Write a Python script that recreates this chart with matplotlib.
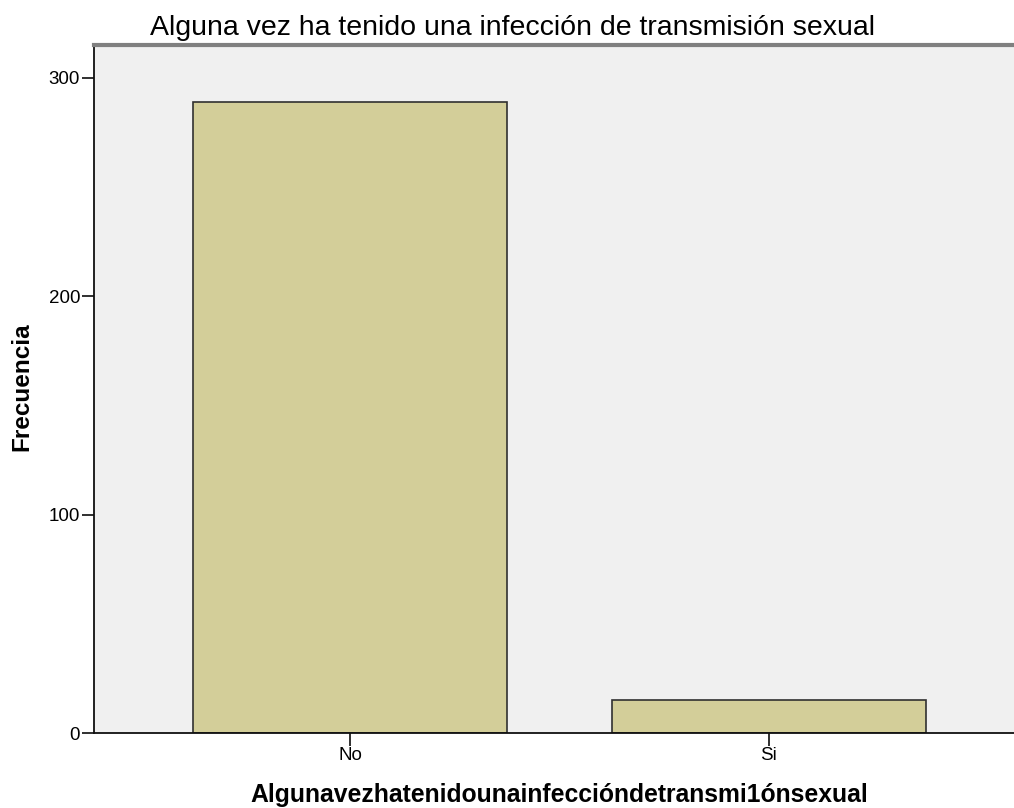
import matplotlib.pyplot as plt

categories = ["No", "Si"]
frecuencia = [289, 15]
yticks = [0, 100, 200, 300]

plt.rcParams['font.family'] = ['Liberation Sans', 'DejaVu Sans']

fig = plt.figure(figsize=(10.14, 8.08), dpi=100)
ax = fig.add_axes([94 / 1014, 75 / 808, 920 / 1014, 688 / 808])
ax.set_facecolor('#F0F0F0')

x = range(len(categories))
ax.bar(x, frecuencia, width=0.75, color='#D3CE99', edgecolor='#303030', linewidth=1.2, zorder=2)

ax.set_xlim(-0.611, 1.585)
ax.set_ylim(0, 315)
ax.set_xticks(list(x))
ax.set_xticklabels(categories)
ax.set_yticks(yticks)
ax.tick_params(axis='both', direction='out', length=9, width=1.3, labelsize=13.5, color='#202020', pad=1)

ax.spines['left'].set_color('#101010')
ax.spines['bottom'].set_color('#101010')
ax.spines['left'].set_linewidth(1.3)
ax.spines['bottom'].set_linewidth(1.3)
ax.spines['top'].set_color('#808080')
ax.spines['top'].set_linewidth(3)
ax.spines['right'].set_visible(False)

fig.text(513 / 1014, 1 - 28 / 808, 'Alguna vez ha tenido una infección de transmisión sexual',
         ha='center', va='center', fontsize=20.5)
fig.text(559 / 1014, 1 - 795 / 808, 'Algunavezhatenidounainfeccióndetransmi1ónsexual',
         ha='center', va='center', fontsize=17.8, fontweight='bold')
fig.text(22 / 1014, 1 - 387 / 808, 'Frecuencia', rotation=90,
         ha='center', va='center', fontsize=17.5, fontweight='bold')

fig.savefig('out.png', dpi=100)
